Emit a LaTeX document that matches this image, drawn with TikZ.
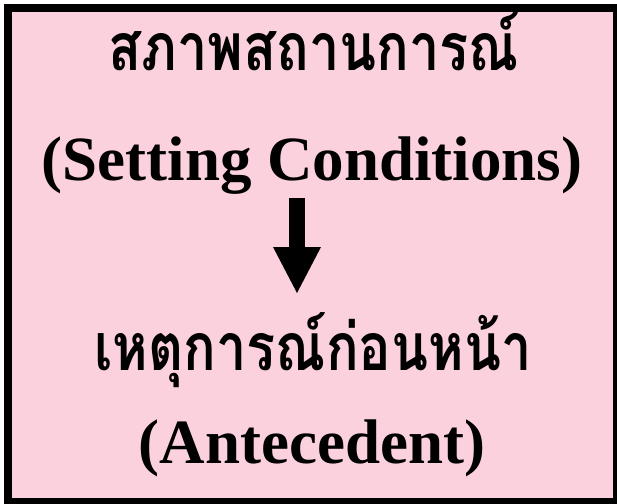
\documentclass[tikz,border=0pt]{standalone}
\usepackage{fontspec}
\setmainfont{Liberation Serif}
\newfontfamily\thaifont[Script=Thai,FakeStretch=0.82]{Loma}
\usetikzlibrary{calc}
\usetikzlibrary{arrows.meta}
\definecolor{boxpink}{RGB}{252,209,222}
\newcommand{\latinsize}{\fontsize{63}{70}\selectfont}
\newcommand{\thaisize}{\fontsize{66}{76}\selectfont}

\begin{document}
\begin{tikzpicture}[%
    x=1pt, y=-1pt,
    thaitext/.style={
      anchor=base,
      inner sep=4pt,
      font=\thaifont\bfseries\thaisize
    },
    engtext/.style={
      anchor=base,
      inner sep=4pt,
      font=\bfseries\latinsize
    },
    downarrow/.style={
      line width=16pt,
      -{Triangle[width=48pt,length=46pt,line width=0pt]}
    }
    ]
    \useasboundingbox (0,0) rectangle (617,503);
    \draw[line width=8pt, fill=boxpink] (8,8) rectangle (617,502);

    \draw (314,70) node[thaitext] (sit) {สภาพสถานการณ์};
    \draw (312,180) node[engtext] (setc) {(Setting Conditions)};
    \draw (313,370) node[thaitext] (ante) {เหตุการณ์ก่อนหน้า};
    \draw (312,463) node[engtext] (antec) {(Antecedent)};

    \coordinate (tip) at (297,293);
    \draw[downarrow] (tip |- setc.south) -- (tip);
  \end{tikzpicture}
\end{document}
